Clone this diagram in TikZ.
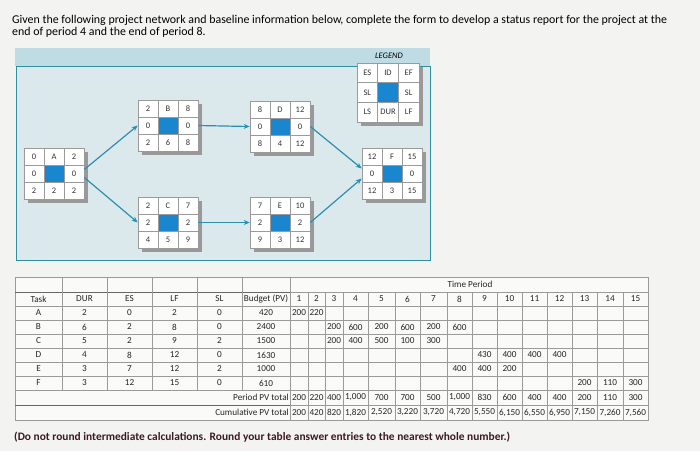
\documentclass[tikz,border=0pt]{standalone}
\usepackage{fontspec}
\setmainfont{Carlito}
\usetikzlibrary{arrows.meta}
\definecolor{bg}{HTML}{F3F3F1}
\definecolor{panel}{HTML}{DCE9EC}
\definecolor{band}{HTML}{BFDCE4}
\definecolor{frame}{HTML}{2F8F9E}
\definecolor{blu}{HTML}{1B86D0}
\definecolor{arr}{HTML}{2A8FB0}
\definecolor{grid}{HTML}{9A9A9A}
\tikzset{
  cellbox/.style={draw=grid,line width=0.6pt,minimum width=60pt,minimum height=51pt,inner sep=0pt},
  cell/.style={draw=grid,fill=white,line width=0.5pt,minimum width=20pt,minimum height=17pt,inner sep=0pt,font=\fontsize{8.5}{9}\selectfont,text=black!80},
  lab/.style={font=\fontsize{8.5}{9}\selectfont,inner sep=0pt,text=black!80},
  tab/.style={font=\fontsize{9.2}{10}\selectfont,inner sep=0pt,text=black!85},
  conn/.style={draw=arr,line width=1.2pt,-{Stealth[length=6pt,width=5pt]}},
  tl/.style={draw=grid,line width=0.5pt},
}
\newcommand\pbox[6]{%
  \fill[black!40] (#2+4,#3+4) rectangle (#2+64,#3+55);
  \foreach \t [count=\i] in {#4} \node[cell] (#1t\i) at (#2-10+20*\i,#3+8.5) {\t};
  \node[cell] (#1m1) at (#2+10,#3+25.5) {\getm{#5}{1}};
  \node[cell,fill=blu] (#1m2) at (#2+30,#3+25.5) {};
  \node[cell] (#1m3) at (#2+50,#3+25.5) {\getm{#5}{2}};
  \foreach \t [count=\i] in {#6} \node[cell] (#1b\i) at (#2-10+20*\i,#3+42.5) {\t};
  \node[cellbox] (#1) at (#2+30,#3+25.5) {};
}
\def\getm#1#2{\ifnum#2=1 \firstm#1\relax\else\secondm#1\relax\fi}
\def\firstm#1,#2\relax{#1}
\def\secondm#1,#2\relax{#2}
\begin{document}
\begin{tikzpicture}[x=1pt,y=-1pt]
\useasboundingbox (0,0) rectangle (700,451);
\fill[bg] (0,0) rectangle (700,451);
\node[anchor=west,font=\fontsize{11.9}{13}\selectfont,inner sep=0pt] (h1) at (12,20) {Given the following project network and baseline information below, complete the form to develop a status report for the project at the};
\node[anchor=west,font=\fontsize{11.9}{13}\selectfont,inner sep=0pt] (h2) at (12,32) {end of period 4 and the end of period 8.};
% panel
\fill[band] (15,48) rectangle (430,66);
\fill[panel] (16,66) rectangle (430,260);
\draw[frame,line width=0.9pt] (16,66) rectangle (430,260);
\node[font=\itshape\fontsize{8.5}{9}\selectfont,inner sep=0pt] (leg) at (389,56) {LEGEND};
% legend
\fill[black!40] (361,67) rectangle (423,126);
\node[draw=grid,fill=white,minimum width=62pt,minimum height=59pt,inner sep=0pt] (L) at (388,92.5) {};
\fill[blu] (377.7,82.7) rectangle (398.3,102.3);
\foreach \k in {377.7,398.3} \draw[grid,line width=0.5pt] (\k,63) -- (\k,122);
\foreach \k in {82.7,102.3} \draw[grid,line width=0.5pt] (357,\k) -- (419,\k);
\node[lab] (l1) at (367.3,73) {ES}; \node[lab] (l2) at (388,73) {ID}; \node[lab] (l3) at (408.7,73) {EF};
\node[lab] (l4) at (367.3,92.5) {SL}; \node[lab] (l5) at (408.7,92.5) {SL};
\node[lab] (l6) at (367.3,112) {LS}; \node[lab] (l7) at (388,112) {DUR}; \node[lab] (l8) at (408.7,112) {LF};
% nodes
\pbox{A}{24}{148}{0,A,2}{0,0}{2,2,2}
\pbox{B}{138}{100}{2,B,8}{0,0}{2,6,8}
\pbox{C}{138}{197}{2,C,7}{2,2}{4,5,9}
\pbox{D}{250}{101}{8,D,12}{0,0}{8,4,12}
\pbox{E}{250}{197}{7,E,10}{2,2}{9,3,12}
\pbox{F}{362}{148}{12,F,15}{0,0}{12,3,15}
\draw[conn] ([yshift=4pt]A.east) -- (B.west);
\draw[conn] ([yshift=-4pt]A.east) -- (C.west);
\draw[conn] (B.east) -- (D.west);
\draw[conn] (C.east) -- (E.west);
\draw[conn] (D.east) -- ([yshift=5pt]F.west);
\draw[conn] (E.east) -- ([yshift=-5pt]F.west);
% table
\fill[white!60!bg] (15,277) rectangle (648,420);
\foreach \y in {306,320,334,348,362,376,390} \draw[tl] (15,\y) -- (648,\y);
\draw[tl] (290,292) -- (648,292);
\draw[tl] (15,277) rectangle (648,420);
\draw[black!60,line width=1pt] (15,292) -- (290,292);
\draw[black!60,line width=1pt] (15,405) -- (290,405);
\draw[tl] (290,405) -- (648,405);
\foreach \x in {62,107,152,197,242} \draw[tl] (\x,277) -- (\x,390);
\draw[tl] (290,277) -- (290,420);
\foreach \x in {308,325,343,368,395,420,447,472,497,522,547,572,597,623} \draw[tl] (\x,292) -- (\x,420);
\node[tab] (tp) at (470,284.5) {Time Period};
\foreach \t [count=\i] in {Task,DUR,ES,LF,SL,Budget (PV)} {
  \pgfmathsetmacro\cx{{0,38.5,84.5,129.5,174.5,219.5,266}[\i]}
  \node[tab] (hc\i) at (\cx,299) {\t};
}
\foreach \n/\d/\es/\lf/\sl/\bu/\yy in {A/2/0/2/0/420/313,B/6/2/8/0/2400/327,C/5/2/9/2/1500/341,D/4/8/12/0/1630/355,E/3/7/12/2/1000/369,F/3/12/15/0/610/383} {
  \node[tab] (r\n1) at (38.5,\yy) {\n};
  \node[tab] (r\n2) at (84.5,\yy) {\d};
  \node[tab] (r\n3) at (129.5,\yy) {\es};
  \node[tab] (r\n4) at (174.5,\yy) {\lf};
  \node[tab] (r\n5) at (219.5,\yy) {\sl};
  \node[tab] (r\n6) at (266,\yy) {\bu};
}
\def\cxs{{299,316.5,334,355.5,381.5,407.5,433.5,459.5,484.5,509.5,534.5,559.5,584.5,610,635.5}}
\foreach \t [count=\i] in {1,...,15} {\pgfmathsetmacro\cx{\cxs[\i-1]}\node[tab] (p\i) at (\cx,299) {\t};}
\foreach \c/\v/\yy [count=\i] in {1/200/313,2/220/313,
  3/200/327,4/600/327,5/200/327,6/600/327,7/200/327,8/600/327,
  3/200/341,4/400/341,5/500/341,6/100/341,7/300/341,
  9/430/355,10/400/355,11/400/355,12/400/355,
  8/400/369,9/400/369,10/200/369,
  13/200/383,14/110/383,15/300/383} {
  \pgfmathsetmacro\cx{\cxs[\c-1]}\node[tab] (v\i) at (\cx,\yy) {\v};
}
\node[tab,anchor=east] (ppv) at (289,397.5) {Period PV total};
\node[tab,anchor=east] (cpv) at (289,412.5) {Cumulative PV total};
\foreach \v [count=\i] in {200,220,400,{1,000},700,700,500,{1,000},830,600,400,400,200,110,300} {
  \pgfmathsetmacro\cx{\cxs[\i-1]}\node[tab] (pp\i) at (\cx,397.5) {\v};}
\foreach \v [count=\i] in {200,420,820,{1,820},{2,520},{3,220},{3,720},{4,720},{5,550},{6,150},{6,550},{6,950},{7,150},{7,260},{7,560}} {
  \pgfmathsetmacro\cx{\cxs[\i-1]}\node[tab] (cp\i) at (\cx,412.5) {\v};}
\node[anchor=west,font=\bfseries\fontsize{11.4}{12}\selectfont,text={rgb,255:red,60;green,25;blue,35},inner sep=0pt] (foot) at (14,437) {(Do not round intermediate calculations. Round your table answer entries to the nearest whole number.)};
\end{tikzpicture}
\end{document}
